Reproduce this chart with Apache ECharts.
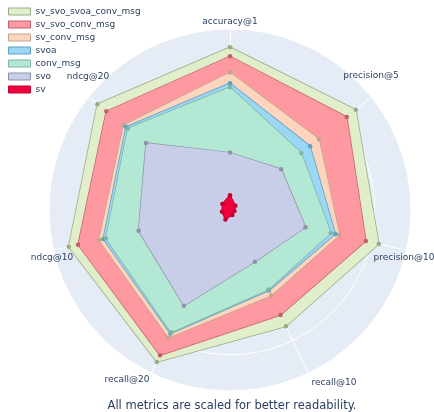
<!DOCTYPE html>
<html>
<head>
<meta charset="utf-8">
<script src="https://cdn.jsdelivr.net/npm/echarts@6/dist/echarts.min.js"></script>
<style>html,body{margin:0;padding:0;background:#fff}#c{width:434px;height:412px}</style>
</head>
<body>
<div id="c"></div>
<script>
var categories = ['accuracy@1','precision@5','precision@10','recall@10','recall@20','ndcg@10','ndcg@20'];
var seriesNames = ['sv_svo_svoa_conv_msg','sv_svo_conv_msg','sv_conv_msg','svoa','conv_msg','svo','sv'];
var sv_svo_svoa_conv_msg = [0.899,0.889,0.843,0.713,0.932,0.914,0.937];
var sv_svo_conv_msg = [0.849,0.825,0.770,0.644,0.891,0.861,0.874];
var sv_conv_msg = [0.759,0.628,0.620,0.525,0.782,0.742,0.751];
var svoa = [0.700,0.566,0.597,0.494,0.758,0.718,0.735];
var conv_msg = [0.678,0.504,0.571,0.488,0.750,0.703,0.722];
var svo = [0.317,0.362,0.428,0.317,0.587,0.518,0.593];
var sv = [0.081,0.038,0.025,0.030,0.058,0.045,0.054];
var values = [sv_svo_svoa_conv_msg, sv_svo_conv_msg, sv_conv_msg, svoa, conv_msg, svo, sv];
var fills = ['#e0efc9','#fe99a1','#fdd5bc','#9ad7f5','#b3e9d4','#c8cde8','#f0003c'];
var lines = ['#9ba987','#c25f6e','#c3a48e','#5e9fc1','#7db6a2','#8e92a6','#c2002f'];

// ECharts radar places indicators counter-clockwise; reorder for clockwise layout
var order = [0,6,5,4,3,2,1];
var indicator = order.map(function(i){ return {name: categories[i], max: 1, min: 0}; });

// angular label anchor points (label layout, not data)
var labelPos = [[230,22],[371,76],[404,258],[334,383],[127,380],[52,258],[88,77]];

var chart = echarts.init(document.getElementById('c'));
chart.setOption({
  animation: false,
  legend: {
    orient: 'vertical', left: 8, top: 7, itemGap: 4, padding: 0,
    itemWidth: 22, itemHeight: 7,
    textStyle: {fontSize: 9, color: '#2a3f5f', fontFamily: 'DejaVu Sans'},
    data: seriesNames.map(function(n, k){ return {name: n, icon: 'rect', itemStyle: {color: fills[k], borderColor: lines[k], borderWidth: 1}}; })
  },
  title: {
    text: 'All metrics are scaled for better readability.',
    left: 227, top: 395, textAlign: 'center',
    textStyle: {fontSize: 11.5, fontWeight: 'normal', color: '#2a3f5f', fontFamily: 'DejaVu Sans'}
  },
  graphic: categories.map(function(c, i){
    return {type: 'text', x: labelPos[i][0], y: labelPos[i][1], z: 100,
      style: {text: c, fill: '#2a3f5f', font: '9px "DejaVu Sans"', align: 'center', verticalAlign: 'middle'}};
  }),
  radar: {
    center: [230, 210], radius: 181, startAngle: 90, shape: 'circle',
    splitNumber: 5, indicator: indicator,
    axisName: {show: false},
    splitArea: {show: true, areaStyle: {color: ['#e5ecf6']}},
    splitLine: {lineStyle: {color: '#ffffff', width: 1}},
    axisLine: {lineStyle: {color: '#ffffff', width: 1}}
  },
  series: seriesNames.map(function(n, k){
    return {
      type: 'radar', name: n, z: 2 + k,
      symbol: 'circle', symbolSize: 4.5,
      itemStyle: {color: lines[k]},
      lineStyle: {color: lines[k], width: 1.5},
      areaStyle: {color: fills[k], opacity: 1},
      data: [{value: order.map(function(i){ return values[k][i]; }), name: n}]
    };
  })
});
</script>
</body>
</html>
